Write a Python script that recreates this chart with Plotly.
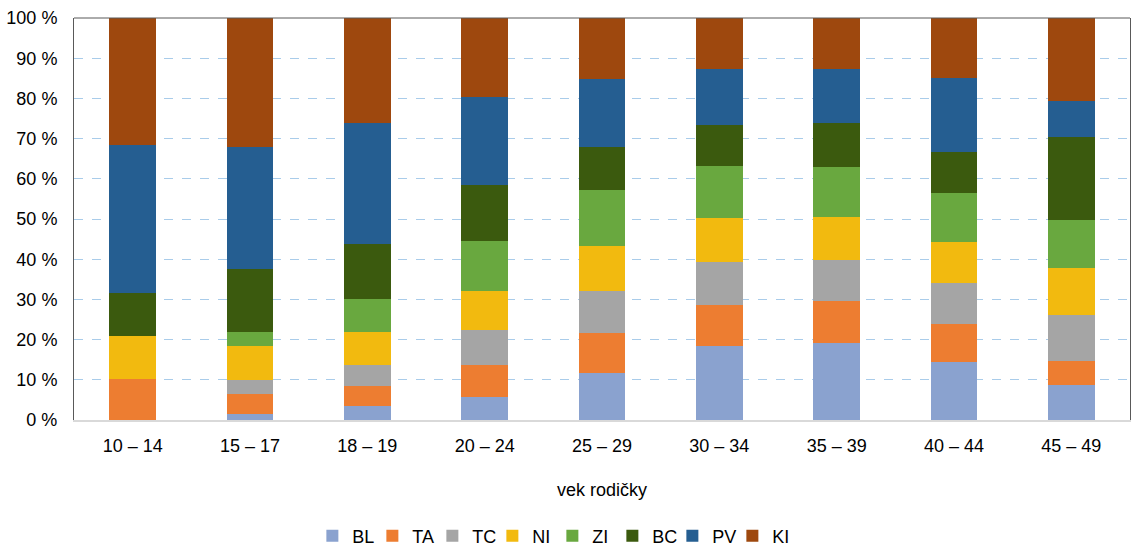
import plotly.graph_objects as go

categories = ["10 – 14", "15 – 17", "18 – 19", "20 – 24", "25 – 29", "30 – 34", "35 – 39", "40 – 44", "45 – 49"]
series_names = ["BL", "TA", "TC", "NI", "ZI", "BC", "PV", "KI"]

BL = [0.0, 1.4, 3.5, 5.7, 11.8, 18.3, 19.2, 14.5, 8.7]
TA = [10.3, 5.0, 4.9, 8.1, 9.8, 10.4, 10.5, 9.3, 6.0]
TC = [0.0, 3.5, 5.3, 8.5, 10.6, 10.7, 10.2, 10.4, 11.5]
NI = [10.5, 8.4, 8.3, 9.9, 11.2, 10.9, 10.7, 10.2, 11.7]
ZI = [0.0, 3.5, 8.0, 12.4, 13.9, 12.9, 12.4, 12.1, 11.9]
BC = [10.7, 15.8, 13.8, 13.8, 10.7, 10.1, 10.8, 10.2, 20.7]
PV = [36.8, 30.2, 30.1, 22.0, 16.9, 13.9, 13.4, 18.5, 8.9]
KI = [31.7, 32.2, 26.1, 19.6, 15.1, 12.8, 12.8, 14.8, 20.6]

values = [BL, TA, TC, NI, ZI, BC, PV, KI]
colors = ["#8AA2CF", "#ED7D31", "#A5A5A5", "#F2BA0F", "#69A83F", "#3B5A0E", "#255E91", "#9E480E"]

y_ticks = list(range(0, 101, 10))
y_tick_labels = [f"{v} %" for v in y_ticks]

fig = go.Figure()
for name, vals, col in zip(series_names, values, colors):
    fig.add_trace(go.Bar(x=categories, y=vals, name=name, marker=dict(color=col, line=dict(width=0))))

font = "Liberation Sans, Arial, sans-serif"
fig.update_layout(
    width=1135, height=547,
    barmode="stack", bargap=0.6,
    paper_bgcolor="white", plot_bgcolor="white",
    margin=dict(l=74, r=5, t=18, b=127, autoexpand=False),
    font=dict(family=font, size=18, color="#000000"),
    legend=dict(orientation="h", x=0.453, xanchor="center", y=-0.2425, yanchor="top",
                traceorder="normal", entrywidth=15, itemwidth=30,
                font=dict(size=18)),
    xaxis=dict(showline=True, linecolor="#D9D9D9", linewidth=2, ticks="",
               automargin=False, ticklabelstandoff=8,
               title=dict(text="vek rodičky", standoff=29, font=dict(size=18)),
               tickfont=dict(size=18)),
    yaxis=dict(range=[0, 100], tickvals=y_ticks, ticktext=y_tick_labels,
               automargin=False, ticklabelstandoff=12,
               showgrid=True, gridcolor="#A9CCEA", griddash="dash", gridwidth=1,
               showline=True, linecolor="#595959", linewidth=1, mirror=True,
               zeroline=False, ticks="", tickfont=dict(size=18)),
    showlegend=True,
)
fig.add_shape(type="line", xref="paper", yref="paper", x0=0, x1=1, y0=1, y1=1,
              line=dict(color="#595959", width=1))
# remove the default 8px page margin so the figure fills the window exactly
fig.write_html("out.html", config={"displayModeBar": False},
               post_script="document.body.style.margin='0';")
